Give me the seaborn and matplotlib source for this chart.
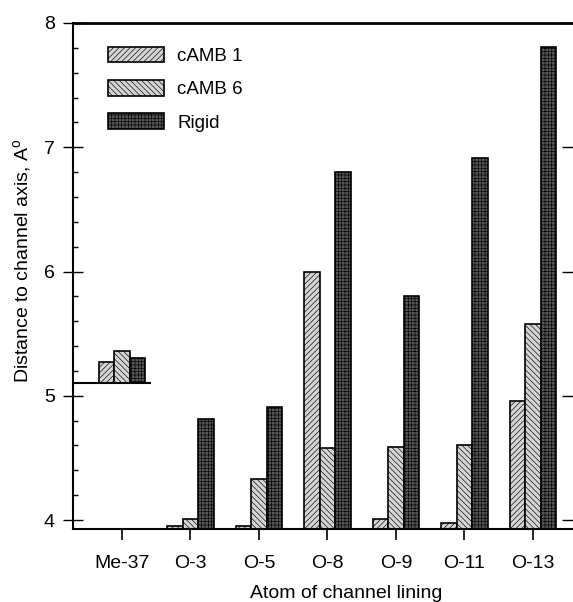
import pandas as pd
import matplotlib
matplotlib.use("Agg")
import matplotlib.pyplot as plt
from matplotlib.patches import Patch
from matplotlib.ticker import MultipleLocator
import seaborn as sns

# -----------------------------
# Data
# -----------------------------
atoms = ["Me-37", "O-3", "O-5", "O-8", "O-9", "O-11", "O-13"]
series = ["cAMB 1", "cAMB 6", "Rigid"]
camb1 = [5.27, 3.955, 3.95, 6.00, 4.01, 3.98, 4.955]
camb6 = [5.36, 4.01, 4.33, 4.58, 4.59, 4.60, 5.58]
rigid = [5.30, 4.81, 4.91, 6.80, 5.80, 6.91, 7.81]
# Me-37 bars sit on their own baseline
me37_base = 5.1

# -----------------------------
# Style
# -----------------------------
sns.set_theme(style="ticks")
plt.rcParams["font.family"] = ["Liberation Sans", "DejaVu Sans"]
plt.rcParams["mathtext.fontset"] = "custom"
plt.rcParams["mathtext.rm"] = "Liberation Sans"
plt.rcParams["hatch.linewidth"] = 0.45
plt.rcParams["text.color"] = "black"
plt.rcParams["axes.labelcolor"] = "black"
plt.rcParams["xtick.color"] = "black"
plt.rcParams["ytick.color"] = "black"
plt.rcParams["axes.edgecolor"] = "black"

faces = {"cAMB 1": "#d4d4d4", "cAMB 6": "#d4d4d4", "Rigid": "#555555"}
hatches = {"cAMB 1": "//////", "cAMB 6": "\\\\\\\\\\\\", "Rigid": "+++++"}

df = pd.DataFrame({
    "atom": atoms * 3,
    "series": [s for s in series for _ in atoms],
    "value": camb1 + camb6 + rigid,
})

fig = plt.figure(figsize=(5.73, 6.02), dpi=100)
ax = fig.add_axes([0.1274, 0.1213, 0.8706, 0.8405])

sns.barplot(data=df, x="atom", y="value", hue="series", order=atoms,
            hue_order=series, palette=faces, width=0.68, gap=0,
            edgecolor="black", linewidth=1.2, legend=False, ax=ax)

for cont, s in zip(ax.containers, series):
    for i, bar in enumerate(cont):
        bar.set_hatch(hatches[s])
        if atoms[i] == "Me-37":
            top = bar.get_height()
            bar.set_y(me37_base)
            bar.set_height(top - me37_base)

ax.set_xlim(-0.715, 6.57)
ax.set_ylim(3.928, 8)
ax.hlines(me37_base, -0.715, 0.42, color="black", lw=1.5, zorder=3)

# axes / ticks
ax.spines["right"].set_visible(False)
ax.spines["top"].set_linewidth(2.0)
ax.spines["left"].set_linewidth(1.5)
ax.spines["bottom"].set_linewidth(1.5)
ax.yaxis.set_major_locator(MultipleLocator(1))
ax.yaxis.set_minor_locator(MultipleLocator(0.2))
ax.tick_params(axis="y", which="major", direction="inout", length=14,
               width=1.0, labelsize=14, pad=6, right=True)
ax.tick_params(axis="y", which="minor", direction="in", length=3.6,
               width=1.0, left=True, right=False)
ax.tick_params(axis="x", which="major", direction="out", length=8,
               width=1.2, labelsize=14, pad=11)

ax.set_xlabel("Atom of channel lining", fontsize=14)
ax.set_ylabel(r"Distance to channel axis, A$^{\mathrm{o}}$", fontsize=14)
ax.xaxis.set_label_coords(0.547, -0.11)
ax.yaxis.set_label_coords(-0.078, 0.53)

handles = [Patch(facecolor=faces[s], edgecolor="black", linewidth=1.2,
                 hatch=hatches[s], label=s) for s in series]
ax.legend(handles=handles, loc="upper left", bbox_to_anchor=(0.07, 0.953),
          frameon=False, fontsize=13.5, handlelength=3.0, handleheight=0.9,
          labelspacing=0.8, handletextpad=0.7, borderpad=0, borderaxespad=0)

fig.savefig("out.png", dpi=100)
